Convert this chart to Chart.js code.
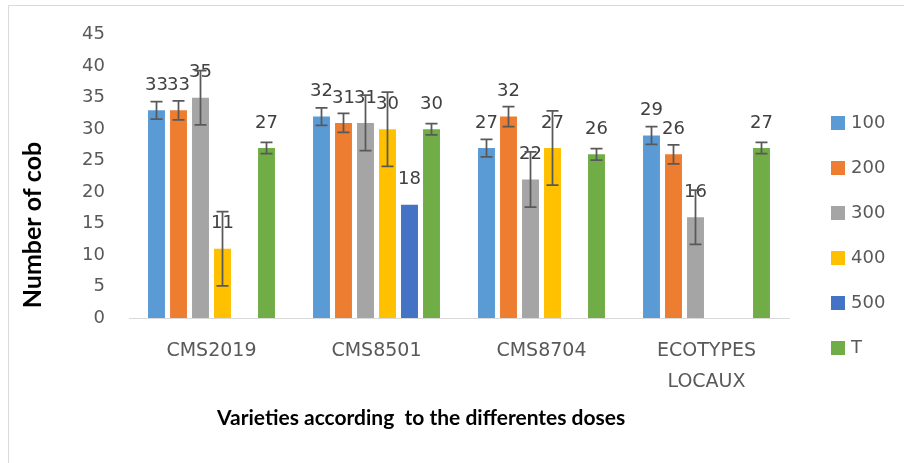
<!DOCTYPE html>
<html>
<head>
<meta charset="utf-8">
<script src="https://cdn.jsdelivr.net/npm/chart.js@4"></script>
<style>
  html, body { margin: 0; padding: 0; background: #fff; }
  #wrap { width: 904px; height: 463px; position: relative; }
</style>
</head>
<body>
<div id="wrap"><canvas id="chart" width="904" height="463"></canvas></div>
<script>
// --- data ---
const varieties = ["CMS2019", "CMS8501", "CMS8704", ["ECOTYPES", "LOCAUX"]];
const doseNames = ["100", "200", "300", "400", "500", "T"];

const dose100 = [33, 32, 27, 29];
const dose200 = [33, 31, 32, 26];
const dose300 = [35, 31, 22, 16];
const dose400 = [11, 30, 27, null];
const dose500 = [null, 18, null, null];
const doseT   = [27, 30, 26, 27];

// error bar half-lengths
const err100 = [1.4, 1.4, 1.4, 1.4];
const err200 = [1.5, 1.5, 1.6, 1.5];
const err300 = [4.3, 4.4, 4.4, 4.3];
const err400 = [5.9, 5.9, 5.9, null];
const err500 = [null, null, null, null];
const errT   = [0.9, 0.9, 0.9, 0.9];

const yTicks = [0, 5, 10, 15, 20, 25, 30, 35, 40, 45];

const colors = ["#5B9BD5", "#ED7D31", "#A5A5A5", "#FFC000", "#4472C4", "#70AD47"];
const FONT = "'DejaVu Sans', sans-serif";
const TITLE_FONT = "Lato, 'Open Sans', sans-serif";

const values = [dose100, dose200, dose300, dose400, dose500, doseT];
const errors = [err100, err200, err300, err400, err500, errT];

const datasets = doseNames.map((name, i) => ({
    label: name,
    data: values[i],
    errors: errors[i],
    backgroundColor: colors[i],
    borderWidth: 0,
    categoryPercentage: 0.8,
    barPercentage: 0.77
}));

// --- value labels + error bars ---
const barDecor = {
    id: "barDecor",
    afterDatasetsDraw(chart) {
        const { ctx, scales: { y } } = chart;
        ctx.save();
        // labels first, error bars go over them like in the original
        ctx.font = "18px " + FONT;
        ctx.fillStyle = "#404040";
        ctx.textAlign = "center";
        ctx.textBaseline = "middle";
        chart.data.datasets.forEach((ds, i) => {
            chart.getDatasetMeta(i).data.forEach((bar, j) => {
                if (ds.data[j] == null) return;
                ctx.fillText(String(ds.data[j]), bar.x, bar.y - 25);
            });
        });
        ctx.strokeStyle = "#595959";
        ctx.lineWidth = 1.75;
        chart.data.datasets.forEach((ds, i) => {
            chart.getDatasetMeta(i).data.forEach((bar, j) => {
                const e = ds.errors[j];
                if (ds.data[j] == null || e == null) return;
                const top = y.getPixelForValue(ds.data[j] + e);
                const bot = y.getPixelForValue(ds.data[j] - e);
                ctx.beginPath();
                ctx.moveTo(bar.x, top); ctx.lineTo(bar.x, bot);
                ctx.moveTo(bar.x - 6, top); ctx.lineTo(bar.x + 6, top);
                ctx.moveTo(bar.x - 6, bot); ctx.lineTo(bar.x + 6, bot);
                ctx.stroke();
            });
        });
        ctx.restore();
    }
};

// --- frame, axis titles, legend ---
const extras = {
    id: "extras",
    beforeDraw(chart) {
        const { ctx } = chart;
        ctx.save();
        ctx.fillStyle = "#fff";
        ctx.fillRect(0, 0, chart.width, chart.height);
        ctx.strokeStyle = "#d9d9d9";
        ctx.lineWidth = 1;
        ctx.beginPath();
        ctx.moveTo(8.5, chart.height); ctx.lineTo(8.5, 5.5); ctx.lineTo(chart.width, 5.5);
        ctx.stroke();
        ctx.restore();
    },
    afterDraw(chart) {
        const { ctx } = chart;
        ctx.save();
        ctx.fillStyle = "#000";
        ctx.textBaseline = "middle";
        ctx.font = "bold 21px " + TITLE_FONT;
        ctx.textAlign = "left";
        ctx.fillText("Varieties according  to the differentes doses", 217, 418);
        ctx.font = "bold 25px " + TITLE_FONT;
        ctx.textAlign = "center";
        ctx.translate(33, 225);
        ctx.rotate(-Math.PI / 2);
        ctx.fillText("Number of cob", 0, 0);
        ctx.restore();

        ctx.save();
        ctx.font = "18px " + FONT;
        ctx.textAlign = "left";
        ctx.textBaseline = "middle";
        chart.data.datasets.forEach((ds, i) => {
            const cy = 123 + i * 45;
            ctx.fillStyle = ds.backgroundColor;
            ctx.fillRect(831, cy - 7, 14, 14);
            ctx.fillStyle = "#595959";
            ctx.fillText(ds.label, 851, cy);
        });
        ctx.restore();
    }
};

new Chart(document.getElementById("chart"), {
    type: "bar",
    data: { labels: varieties, datasets },
    options: {
        responsive: false,
        animation: false,
        devicePixelRatio: 1,
        layout: { padding: { left: 10, right: 115, top: 33, bottom: 0 } },
        plugins: {
            legend: { display: false },
            tooltip: { enabled: false }
        },
        scales: {
            x: {
                grid: { display: false, drawTicks: false },
                border: { display: true, color: "#d9d9d9", width: 1 },
                ticks: {
                    color: "#595959",
                    font: { family: FONT, size: 19, lineHeight: 1.65 },
                    padding: 17,
                    maxRotation: 0,
                    autoSkip: false
                },
                afterFit(s) { s.height = 145; }
            },
            y: {
                min: 0,
                max: 45,
                afterBuildTicks(s) { s.ticks = yTicks.map(v => ({ value: v })); },
                grid: { display: false, drawTicks: false },
                border: { display: false },
                ticks: {
                    color: "#595959",
                    font: { family: FONT, size: 18 },
                    padding: 24
                },
                afterFit(s) { s.width = 119; }
            }
        }
    },
    plugins: [extras, barDecor]
});
</script>
</body>
</html>
